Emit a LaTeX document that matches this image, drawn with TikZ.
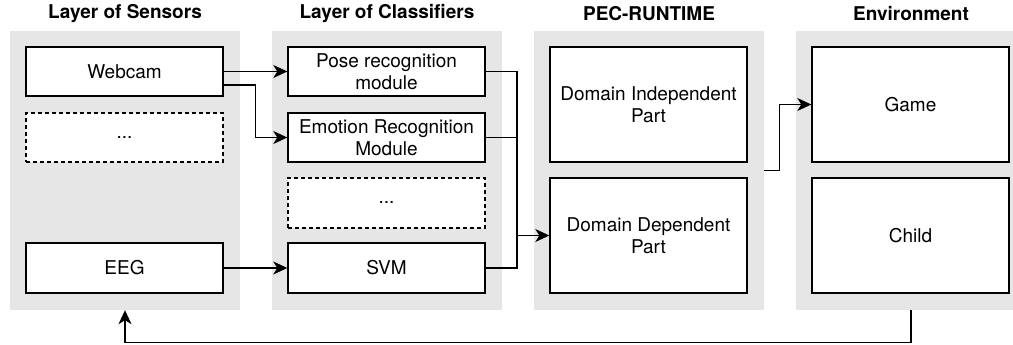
\documentclass[tikz,border=0pt]{standalone}
\usepackage{fontspec}
\setmainfont{TeX Gyre Heros}
\usetikzlibrary{arrows.meta}
\definecolor{panelgray}{HTML}{E6E6E6}
\tikzset{
  panel/.style={fill=panelgray, draw=none, minimum width=230pt, minimum height=279pt, inner sep=0pt},
  box/.style={draw=black, fill=white, line width=1.4pt, minimum width=197pt, minimum height=49pt, inner sep=0pt, align=center, font=\fontsize{19}{22}\selectfont},
  dbox/.style={box, dash pattern=on 4pt off 3pt},
  title/.style={font=\fontsize{19}{22}\selectfont\bfseries, inner sep=0pt},
  conn/.style={line width=1.4pt, draw=black},
  arr/.style={conn, -{Stealth[length=14pt,width=13pt,inset=4pt]}},
}
\begin{document}
\begin{tikzpicture}[x=1pt,y=-1pt]
\useasboundingbox (0,0) rectangle (1013,345);
\clip (0,0) rectangle (1013,345);
% panels
\node[panel] (p1) at (125,170.5) {};
\node[panel] (p2) at (387,170.5) {};
\node[panel] (p3) at (649,170.5) {};
\node[panel] (p4) at (911,170.5) {};
% titles
\node[title] (t1) at (125,14) {Layer of Sensors};
\node[title] (t2) at (387,14) {Layer of Classifiers};
\node[title] (t3) at (649,14) {PEC-RUNTIME};
\node[title] (t4) at (911,14) {Environment};
% sensors
\node[box] (webcam) at (124.5,71.5) {Webcam};
\node[dbox] (dots1) at (124.5,137.5) {...};
\node[box, minimum height=50pt] (eeg) at (124.5,268) {EEG};
% classifiers
\node[box] (pose) at (386.5,71.5) {Pose recognition\\module};
\node[box] (emotion) at (386.5,137.5) {Emotion Recognition\\Module};
\node[dbox, minimum height=50pt] (dots2) at (386.5,203) {...};
\node[box, minimum height=50pt] (svm) at (386.5,268) {SVM};
% PEC runtime
\node[box, minimum height=115pt] (di) at (648.5,104.5) {Domain Independent\\Part};
\node[box, minimum height=115pt] (dd) at (648.5,235.5) {Domain Dependent\\Part};
% environment
\node[box, minimum height=115pt] (game) at (910.5,104.5) {Game};
\node[box, minimum height=115pt] (child) at (910.5,235.5) {Child};
% connectors
\draw[arr] (webcam.east) -- (pose.west);
\draw[arr] ([yshift=-13.5pt]webcam.east) -- ++(32,0) |- (emotion.west);
\draw[arr] (eeg.east) -- (svm.west);
\coordinate (j) at (517,235.5);
\draw[conn] (pose.east) -| (j);
\draw[conn] (emotion.east) -| (j);
\draw[conn] (svm.east) -| (j);
\draw[arr] (j) -- (dd.west);
\draw[arr] (p3.east) -- ++(15,0) |- (game.west);
\draw[arr] (p4.south) -- ++(0,32) -| (p1.south);
\end{tikzpicture}
\end{document}
